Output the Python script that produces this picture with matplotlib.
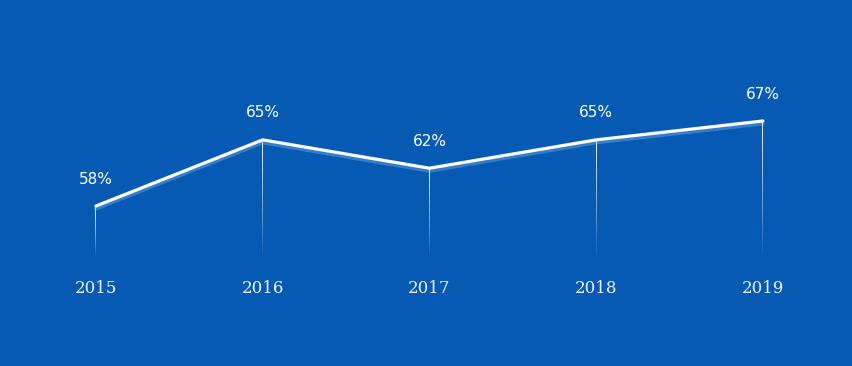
import matplotlib
matplotlib.use("Agg")
import matplotlib.pyplot as plt
import numpy as np

years = ["2015", "2016", "2017", "2018", "2019"]
values = [58, 65, 62, 65, 67]
labels = ["58%", "65%", "62%", "65%", "67%"]

bg = "#065ab4"
baseline = 52.5

fig = plt.figure(figsize=(8.53, 3.66), dpi=100, facecolor=bg)
ax = fig.add_axes([0, 0, 1, 1])
ax.set_facecolor(bg)
x = np.arange(len(years))

ax.set_xlim(-0.5757, 4.54)
ax.set_ylim(41.07, 79.8)

# fading vertical drop lines as thin gradient images
half_w = 0.5 * (ax.get_xlim()[1] - ax.get_xlim()[0]) / fig.bbox.width
grad = np.zeros((100, 1, 4))
grad[..., :3] = 1.0
grad[:, 0, 3] = np.linspace(0.95, 0.0, 100) ** 0.9
for xi, v in zip(x, values):
    ax.imshow(grad, extent=[xi - half_w, xi + half_w, baseline, v],
              origin="upper", aspect="auto", interpolation="bilinear", zorder=2)

# glow under the line
ax.plot(x, np.array(values) - 0.3, color="#8cc0f2", lw=2.5, alpha=0.35, zorder=3)
ax.plot(x, values, color="white", lw=2.3, zorder=4, solid_capstyle="round")

for xi, v, lab in zip(x, values, labels):
    ax.annotate(lab, (xi, v), xytext=(0, 14), textcoords="offset points",
                ha="center", va="bottom", color="white", fontsize=11,
                family="DejaVu Sans")

for xi, yr in zip(x, years):
    ax.text(xi, 49.3, yr, ha="center", va="center", color="#eef4ff",
            fontsize=12, family="DejaVu Serif")

ax.set_xlim(-0.5757, 4.54)
ax.set_ylim(41.07, 79.8)
ax.axis("off")

fig.savefig("out.png", dpi=100, facecolor=bg)
